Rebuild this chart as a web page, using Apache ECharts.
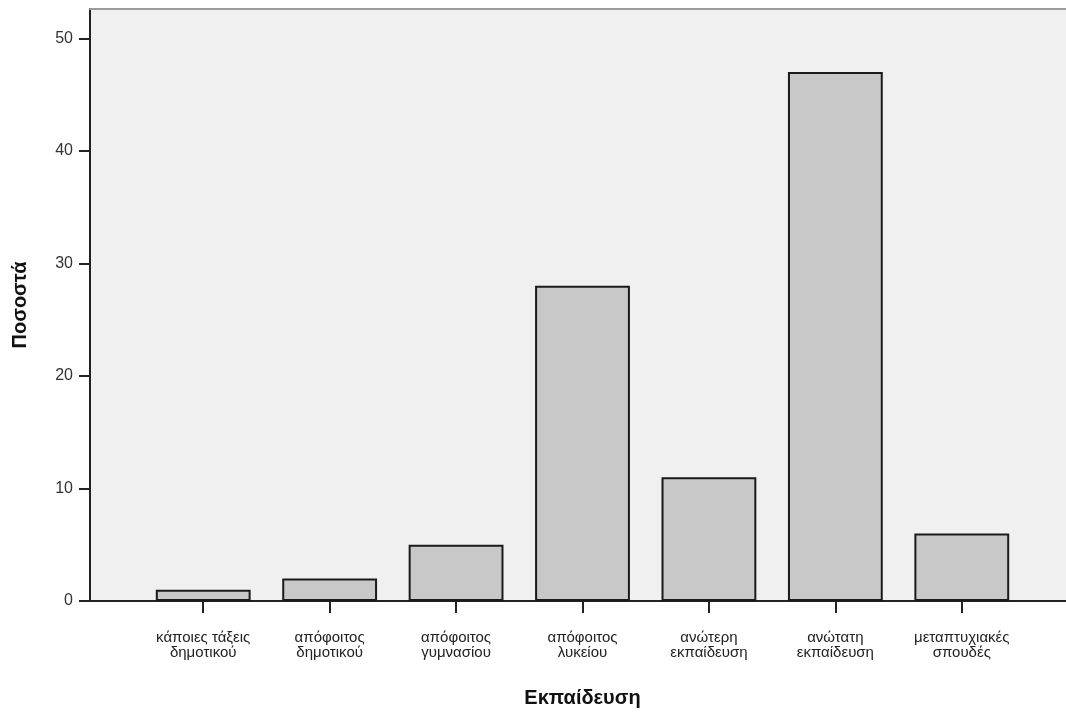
<!DOCTYPE html>
<html>
<head>
<meta charset="utf-8">
<script src="https://cdn.jsdelivr.net/npm/echarts@6/dist/echarts.min.js"></script>
<style>
html,body{margin:0;padding:0;background:#fff;}
#chart{width:1066px;height:713px;}
</style>
</head>
<body>
<div id="chart"></div>
<script>
var categories = [
  "κάποιες τάξεις\nδημοτικού",
  "απόφοιτος\nδημοτικού",
  "απόφοιτος\nγυμνασίου",
  "απόφοιτος\nλυκείου",
  "ανώτερη\nεκπαίδευση",
  "ανώτατη\nεκπαίδευση",
  "μεταπτυχιακές\nσπουδές"
];
var values = [1, 2, 5, 28, 11, 47, 6];
var yTicks = [0, 10, 20, 30, 40, 50];
var yMax = 52.6;

var chart = echarts.init(document.getElementById('chart'));
var font = 'Liberation Sans, Arial, sans-serif';
chart.setOption({
  backgroundColor: '#ffffff',
  animation: false,
  textStyle: { fontFamily: font },
  grid: [
    { left: 90, right: 0, top: 9, bottom: 112, show: true, backgroundColor: '#f0f0f0', borderWidth: 0 },
    { left: 140, right: 41, top: 9, bottom: 112 }
  ],
  xAxis: [
    { gridIndex: 0, type: 'value', min: 0, max: 1, position: 'bottom',
      axisLine: { show: true, lineStyle: { color: '#222', width: 2 } },
      axisTick: { show: false }, axisLabel: { show: false }, splitLine: { show: false } },
    { gridIndex: 0, type: 'value', min: 0, max: 1, position: 'top',
      axisLine: { show: true, lineStyle: { color: '#9a9a9a', width: 2 } },
      axisTick: { show: false }, axisLabel: { show: false }, splitLine: { show: false } },
    { gridIndex: 1, type: 'category', data: categories, position: 'bottom',
      axisLine: { show: false },
      axisTick: { show: true, alignWithLabel: true, length: 12, lineStyle: { color: '#222', width: 2 } },
      axisLabel: { show: true, interval: 0, margin: 29, fontSize: 15, lineHeight: 15, color: '#222', fontFamily: font },
      name: 'Εκπαίδευση', nameLocation: 'middle', nameGap: 87,
      nameTextStyle: { fontSize: 20, fontWeight: 'bold', color: '#111', fontFamily: font }
    }
  ],
  yAxis: [
    { gridIndex: 0, type: 'value', min: 0, max: yMax,
      axisLine: { show: true, lineStyle: { color: '#222', width: 2 } },
      axisTick: { show: true, length: 11, customValues: yTicks, lineStyle: { color: '#222', width: 2 } },
      axisLabel: { show: true, customValues: yTicks, margin: 17, fontSize: 16, color: '#333', fontFamily: font },
      splitLine: { show: false },
      name: 'Ποσοστά', nameLocation: 'middle', nameGap: 60,
      nameTextStyle: { fontSize: 20, fontWeight: 'bold', color: '#111', fontFamily: font }
    },
    { gridIndex: 1, type: 'value', min: 0, max: yMax, show: false }
  ],
  series: [{
    type: 'bar',
    xAxisIndex: 2,
    yAxisIndex: 1,
    data: values,
    barWidth: '75%',
    itemStyle: { color: '#c8c8c8', borderColor: '#1a1a1a', borderWidth: 2 }
  }]
});
</script>
</body>
</html>
